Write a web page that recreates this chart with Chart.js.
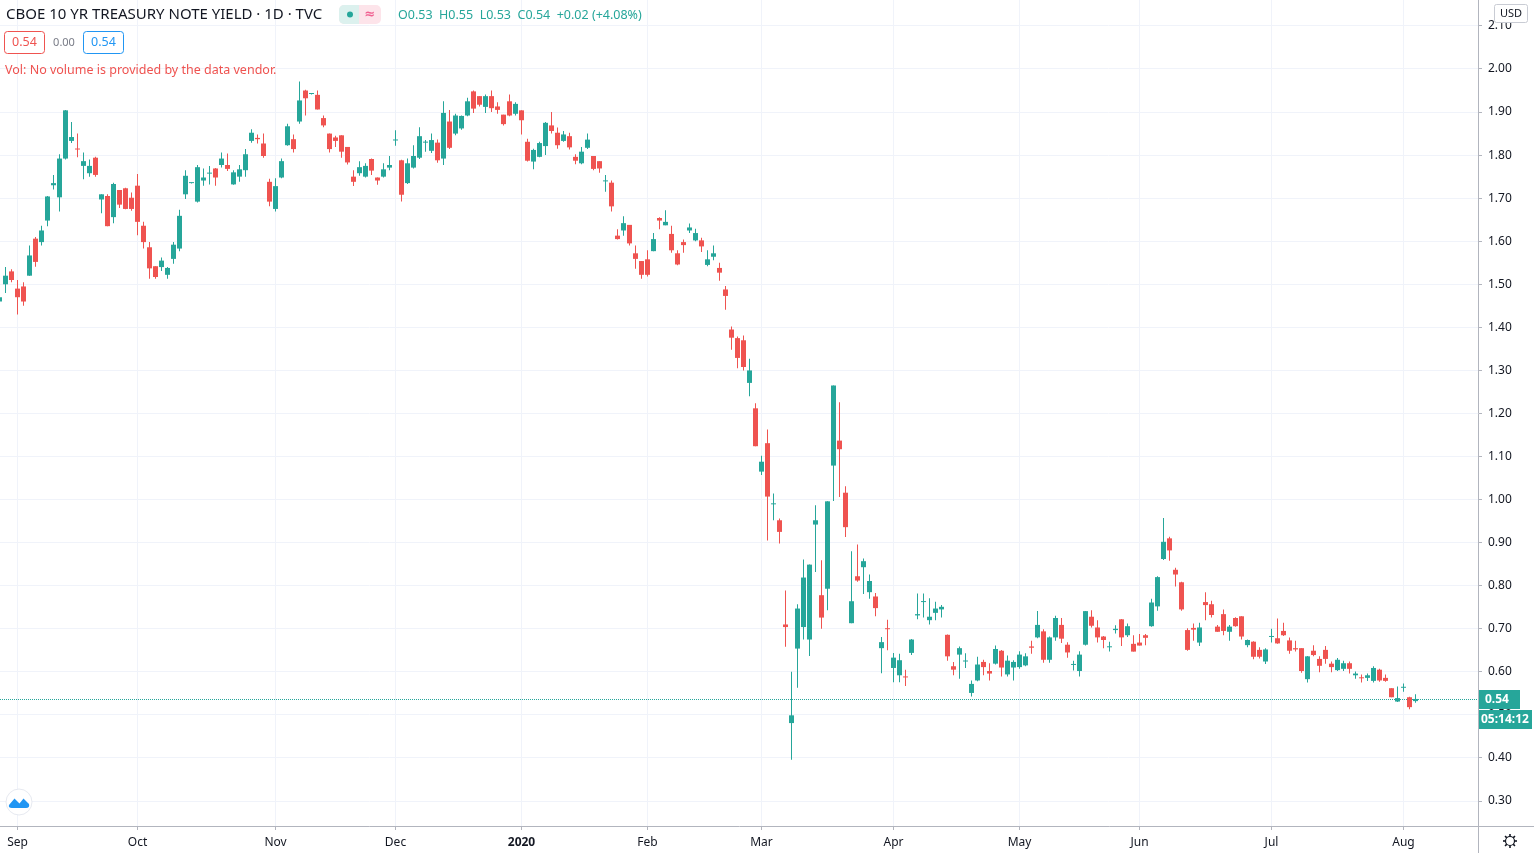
<!DOCTYPE html>
<html>
<head>
<meta charset="utf-8">
<title>CBOE 10 YR TREASURY NOTE YIELD</title>
<script src="https://cdn.jsdelivr.net/npm/chart.js@4.4.1/dist/chart.umd.min.js"></script>
<style>
html, body { margin: 0; padding: 0; background: #fff; overflow: hidden; }
#chart { display: block; }
</style>
</head>
<body>
<canvas id="chart" width="1534" height="853"></canvas>
<script>
// Daily candles, 28 Aug 2019 - 5 Aug 2020
const dates = [
    '2019-08-28', '2019-08-29', '2019-08-30',
    '2019-09-03', '2019-09-04', '2019-09-05', '2019-09-06', '2019-09-09', '2019-09-10', '2019-09-11', '2019-09-12', '2019-09-13', '2019-09-16',
    '2019-09-17', '2019-09-18', '2019-09-19', '2019-09-20', '2019-09-23', '2019-09-24', '2019-09-25', '2019-09-26', '2019-09-27', '2019-09-30',
    '2019-10-01', '2019-10-02', '2019-10-03', '2019-10-04', '2019-10-07', '2019-10-08', '2019-10-09', '2019-10-10', '2019-10-11', '2019-10-14',
    '2019-10-15', '2019-10-16', '2019-10-17', '2019-10-18', '2019-10-21', '2019-10-22', '2019-10-23', '2019-10-24', '2019-10-25', '2019-10-28',
    '2019-10-29', '2019-10-30', '2019-10-31',
    '2019-11-01', '2019-11-04', '2019-11-05', '2019-11-06', '2019-11-07', '2019-11-08', '2019-11-11', '2019-11-12', '2019-11-13', '2019-11-14',
    '2019-11-15', '2019-11-18', '2019-11-19', '2019-11-20', '2019-11-21', '2019-11-22', '2019-11-25', '2019-11-26', '2019-11-27', '2019-11-29',
    '2019-12-02', '2019-12-03', '2019-12-04', '2019-12-05', '2019-12-06', '2019-12-09', '2019-12-10', '2019-12-11', '2019-12-12', '2019-12-13',
    '2019-12-16', '2019-12-17', '2019-12-18', '2019-12-19', '2019-12-20', '2019-12-23', '2019-12-24', '2019-12-26', '2019-12-27', '2019-12-30',
    '2019-12-31',
    '2020-01-02', '2020-01-03', '2020-01-06', '2020-01-07', '2020-01-08', '2020-01-09', '2020-01-10', '2020-01-13', '2020-01-14', '2020-01-15',
    '2020-01-16', '2020-01-17', '2020-01-21', '2020-01-22', '2020-01-23', '2020-01-24', '2020-01-27', '2020-01-28', '2020-01-29', '2020-01-30',
    '2020-01-31',
    '2020-02-03', '2020-02-04', '2020-02-05', '2020-02-06', '2020-02-07', '2020-02-10', '2020-02-11', '2020-02-12', '2020-02-13', '2020-02-14',
    '2020-02-18', '2020-02-19', '2020-02-20', '2020-02-21', '2020-02-24', '2020-02-25', '2020-02-26', '2020-02-27', '2020-02-28',
    '2020-03-02', '2020-03-03', '2020-03-04', '2020-03-05', '2020-03-06', '2020-03-09', '2020-03-10', '2020-03-11', '2020-03-12', '2020-03-13',
    '2020-03-16', '2020-03-17', '2020-03-18', '2020-03-19', '2020-03-20', '2020-03-23', '2020-03-24', '2020-03-25', '2020-03-26', '2020-03-27',
    '2020-03-30', '2020-03-31',
    '2020-04-01', '2020-04-02', '2020-04-03', '2020-04-06', '2020-04-07', '2020-04-08', '2020-04-09', '2020-04-13', '2020-04-14', '2020-04-15',
    '2020-04-16', '2020-04-17', '2020-04-20', '2020-04-21', '2020-04-22', '2020-04-23', '2020-04-24', '2020-04-27', '2020-04-28', '2020-04-29',
    '2020-04-30',
    '2020-05-01', '2020-05-04', '2020-05-05', '2020-05-06', '2020-05-07', '2020-05-08', '2020-05-11', '2020-05-12', '2020-05-13', '2020-05-14',
    '2020-05-15', '2020-05-18', '2020-05-19', '2020-05-20', '2020-05-21', '2020-05-22', '2020-05-26', '2020-05-27', '2020-05-28', '2020-05-29',
    '2020-06-01', '2020-06-02', '2020-06-03', '2020-06-04', '2020-06-05', '2020-06-08', '2020-06-09', '2020-06-10', '2020-06-11', '2020-06-12',
    '2020-06-15', '2020-06-16', '2020-06-17', '2020-06-18', '2020-06-19', '2020-06-22', '2020-06-23', '2020-06-24', '2020-06-25', '2020-06-26',
    '2020-06-29', '2020-06-30',
    '2020-07-01', '2020-07-02', '2020-07-06', '2020-07-07', '2020-07-08', '2020-07-09', '2020-07-10', '2020-07-13', '2020-07-14', '2020-07-15',
    '2020-07-16', '2020-07-17', '2020-07-20', '2020-07-21', '2020-07-22', '2020-07-23', '2020-07-24', '2020-07-27', '2020-07-28', '2020-07-29',
    '2020-07-30', '2020-07-31',
    '2020-08-03', '2020-08-04', '2020-08-05'
]

const open = [
    1.46, 1.50, 1.53, 1.49, 1.495, 1.52, 1.606, 1.598, 1.648, 1.73,
    1.702, 1.792, 1.833, 1.815, 1.775, 1.758, 1.794, 1.697, 1.705, 1.656,
    1.719, 1.723, 1.701, 1.729, 1.636, 1.586, 1.542, 1.54, 1.522, 1.559,
    1.583, 1.709, 1.735, 1.692, 1.741, 1.757, 1.769, 1.777, 1.777, 1.732,
    1.75, 1.765, 1.833, 1.84, 1.827, 1.738, 1.675, 1.748, 1.823, 1.837,
    1.878, 1.95, 1.942, 1.94, 1.886, 1.85, 1.841, 1.846, 1.819, 1.75,
    1.758, 1.75, 1.791, 1.748, 1.75, 1.771, 1.834, 1.788, 1.735, 1.771,
    1.794, 1.829, 1.81, 1.829, 1.792, 1.878, 1.85, 1.862, 1.892, 1.948,
    1.937, 1.912, 1.937, 1.913, 1.894, 1.925, 1.896, 1.904, 1.831, 1.785,
    1.796, 1.821, 1.869, 1.852, 1.833, 1.844, 1.796, 1.781, 1.817, 1.798,
    1.786, 1.739, 1.736, 1.613, 1.625, 1.638, 1.572, 1.554, 1.558, 1.577,
    1.654, 1.637, 1.617, 1.572, 1.598, 1.625, 1.602, 1.602, 1.545, 1.564,
    1.538, 1.488, 1.395, 1.375, 1.37, 1.271, 1.212, 1.065, 1.131, 0.989,
    0.952, 0.71, 0.481, 0.654, 0.704, 0.675, 0.942, 0.778, 0.793, 1.079,
    1.137, 1.016, 0.713, 0.822, 0.843, 0.785, 0.775, 0.655, 0.701, 0.609,
    0.592, 0.589, 0.644, 0.731, 0.762, 0.72, 0.737, 0.745, 0.686, 0.613,
    0.64, 0.624, 0.551, 0.58, 0.623, 0.602, 0.619, 0.649, 0.594, 0.61,
    0.611, 0.615, 0.659, 0.68, 0.694, 0.628, 0.68, 0.709, 0.663, 0.616,
    0.602, 0.663, 0.728, 0.703, 0.682, 0.657, 0.697, 0.722, 0.685, 0.665,
    0.668, 0.685, 0.706, 0.752, 0.862, 0.91, 0.837, 0.808, 0.697, 0.702,
    0.668, 0.762, 0.757, 0.705, 0.734, 0.693, 0.725, 0.729, 0.662, 0.67,
    0.651, 0.624, 0.681, 0.678, 0.695, 0.673, 0.655, 0.655, 0.583, 0.649,
    0.63, 0.651, 0.619, 0.604, 0.607, 0.62, 0.592, 0.587, 0.586, 0.579,
    0.605, 0.586, 0.562, 0.531, 0.563, 0.541, 0.532
]

const high = [
    1.47, 1.54, 1.535, 1.51, 1.505, 1.59, 1.61, 1.636, 1.705, 1.754,
    1.802, 1.905, 1.877, 1.85, 1.806, 1.79, 1.796, 1.709, 1.709, 1.736,
    1.719, 1.724, 1.713, 1.756, 1.645, 1.598, 1.542, 1.562, 1.54, 1.598,
    1.673, 1.765, 1.736, 1.777, 1.769, 1.775, 1.77, 1.806, 1.804, 1.765,
    1.777, 1.814, 1.86, 1.848, 1.85, 1.745, 1.746, 1.792, 1.873, 1.848,
    1.971, 1.952, 1.943, 1.95, 1.892, 1.85, 1.845, 1.846, 1.819, 1.765,
    1.786, 1.781, 1.792, 1.748, 1.781, 1.798, 1.858, 1.789, 1.792, 1.823,
    1.865, 1.835, 1.85, 1.836, 1.925, 1.905, 1.896, 1.892, 1.933, 1.95,
    1.937, 1.941, 1.95, 1.923, 1.894, 1.941, 1.923, 1.904, 1.838, 1.815,
    1.831, 1.877, 1.90, 1.864, 1.856, 1.852, 1.802, 1.819, 1.85, 1.798,
    1.786, 1.754, 1.741, 1.628, 1.658, 1.638, 1.59, 1.554, 1.579, 1.619,
    1.656, 1.672, 1.636, 1.579, 1.604, 1.641, 1.629, 1.608, 1.579, 1.59,
    1.55, 1.496, 1.402, 1.379, 1.381, 1.327, 1.224, 1.102, 1.163, 1.014,
    0.956, 0.789, 0.60, 0.757, 0.861, 0.849, 0.987, 0.859, 0.996, 1.265,
    1.226, 1.031, 0.88, 0.896, 0.863, 0.826, 0.783, 0.681, 0.721, 0.644,
    0.642, 0.605, 0.676, 0.782, 0.782, 0.771, 0.763, 0.755, 0.687, 0.623,
    0.659, 0.643, 0.58, 0.635, 0.628, 0.62, 0.661, 0.651, 0.638, 0.627,
    0.648, 0.643, 0.672, 0.741, 0.699, 0.682, 0.73, 0.725, 0.669, 0.626,
    0.648, 0.741, 0.743, 0.72, 0.683, 0.67, 0.708, 0.723, 0.712, 0.685,
    0.688, 0.688, 0.77, 0.822, 0.957, 0.914, 0.842, 0.809, 0.701, 0.712,
    0.714, 0.785, 0.765, 0.709, 0.745, 0.709, 0.727, 0.729, 0.675, 0.671,
    0.657, 0.655, 0.70, 0.724, 0.714, 0.68, 0.672, 0.655, 0.637, 0.662,
    0.636, 0.66, 0.624, 0.632, 0.626, 0.624, 0.601, 0.594, 0.596, 0.613,
    0.607, 0.594, 0.562, 0.566, 0.573, 0.542, 0.548
]

const low = [
    1.45, 1.48, 1.505, 1.43, 1.45, 1.52, 1.541, 1.59, 1.635, 1.72,
    1.669, 1.79, 1.828, 1.795, 1.744, 1.75, 1.75, 1.665, 1.635, 1.642,
    1.677, 1.674, 1.671, 1.614, 1.583, 1.513, 1.513, 1.531, 1.513, 1.548,
    1.577, 1.698, 1.734, 1.69, 1.729, 1.732, 1.729, 1.771, 1.763, 1.731,
    1.738, 1.75, 1.829, 1.827, 1.794, 1.681, 1.669, 1.746, 1.822, 1.806,
    1.873, 1.892, 1.941, 1.906, 1.865, 1.806, 1.819, 1.794, 1.778, 1.728,
    1.752, 1.748, 1.754, 1.731, 1.748, 1.765, 1.822, 1.692, 1.733, 1.769,
    1.791, 1.808, 1.805, 1.782, 1.777, 1.814, 1.846, 1.859, 1.89, 1.898,
    1.913, 1.898, 1.90, 1.896, 1.869, 1.89, 1.892, 1.848, 1.785, 1.767,
    1.795, 1.80, 1.85, 1.815, 1.831, 1.813, 1.779, 1.779, 1.814, 1.765,
    1.759, 1.715, 1.669, 1.604, 1.613, 1.59, 1.536, 1.513, 1.518, 1.577,
    1.628, 1.637, 1.573, 1.544, 1.573, 1.619, 1.60, 1.575, 1.542, 1.556,
    1.508, 1.441, 1.348, 1.305, 1.30, 1.24, 1.124, 1.057, 0.905, 0.952,
    0.898, 0.658, 0.396, 0.563, 0.675, 0.637, 0.832, 0.70, 0.743, 0.997,
    1.006, 0.913, 0.713, 0.809, 0.781, 0.77, 0.729, 0.597, 0.65, 0.576,
    0.576, 0.567, 0.639, 0.722, 0.726, 0.71, 0.72, 0.726, 0.626, 0.592,
    0.584, 0.609, 0.543, 0.578, 0.592, 0.58, 0.617, 0.589, 0.589, 0.58,
    0.607, 0.613, 0.642, 0.678, 0.621, 0.621, 0.672, 0.667, 0.633, 0.603,
    0.589, 0.661, 0.703, 0.668, 0.655, 0.647, 0.689, 0.66, 0.681, 0.647,
    0.661, 0.662, 0.705, 0.742, 0.86, 0.858, 0.798, 0.742, 0.649, 0.672,
    0.66, 0.72, 0.726, 0.693, 0.685, 0.672, 0.705, 0.675, 0.657, 0.629,
    0.631, 0.618, 0.668, 0.665, 0.683, 0.642, 0.647, 0.598, 0.575, 0.636,
    0.599, 0.619, 0.599, 0.602, 0.602, 0.596, 0.584, 0.575, 0.579, 0.575,
    0.577, 0.577, 0.541, 0.53, 0.554, 0.513, 0.528
]

const close = [
    1.47, 1.52, 1.51, 1.47, 1.46, 1.567, 1.552, 1.625, 1.704, 1.735,
    1.792, 1.904, 1.842, 1.813, 1.786, 1.775, 1.754, 1.709, 1.635, 1.733,
    1.685, 1.675, 1.675, 1.645, 1.598, 1.537, 1.517, 1.555, 1.538, 1.592,
    1.659, 1.752, 1.735, 1.772, 1.748, 1.758, 1.748, 1.792, 1.768, 1.76,
    1.767, 1.802, 1.852, 1.837, 1.798, 1.692, 1.728, 1.786, 1.867, 1.814,
    1.927, 1.932, 1.943, 1.906, 1.869, 1.814, 1.833, 1.808, 1.783, 1.738,
    1.772, 1.775, 1.764, 1.741, 1.767, 1.777, 1.836, 1.708, 1.781, 1.798,
    1.844, 1.831, 1.835, 1.788, 1.898, 1.817, 1.892, 1.891, 1.925, 1.908,
    1.917, 1.937, 1.909, 1.905, 1.872, 1.892, 1.919, 1.881, 1.787, 1.812,
    1.828, 1.875, 1.856, 1.823, 1.848, 1.818, 1.787, 1.808, 1.836, 1.768,
    1.769, 1.741, 1.681, 1.605, 1.642, 1.595, 1.559, 1.522, 1.522, 1.605,
    1.648, 1.645, 1.579, 1.546, 1.591, 1.632, 1.619, 1.588, 1.558, 1.572,
    1.527, 1.473, 1.376, 1.329, 1.308, 1.30, 1.124, 1.088, 1.007, 0.99,
    0.925, 0.704, 0.499, 0.747, 0.819, 0.849, 0.952, 0.726, 0.996, 1.265,
    1.117, 0.936, 0.764, 0.812, 0.857, 0.811, 0.748, 0.669, 0.699, 0.633,
    0.627, 0.587, 0.675, 0.734, 0.764, 0.728, 0.747, 0.751, 0.636, 0.605,
    0.655, 0.626, 0.572, 0.617, 0.611, 0.596, 0.653, 0.61, 0.626, 0.623,
    0.64, 0.636, 0.656, 0.709, 0.628, 0.68, 0.725, 0.677, 0.645, 0.618,
    0.64, 0.741, 0.707, 0.68, 0.674, 0.659, 0.70, 0.68, 0.706, 0.647,
    0.661, 0.679, 0.761, 0.82, 0.902, 0.882, 0.826, 0.745, 0.651, 0.698,
    0.703, 0.755, 0.732, 0.693, 0.695, 0.705, 0.706, 0.682, 0.674, 0.635,
    0.635, 0.652, 0.683, 0.666, 0.685, 0.649, 0.652, 0.602, 0.636, 0.639,
    0.614, 0.63, 0.611, 0.628, 0.62, 0.607, 0.596, 0.585, 0.592, 0.609,
    0.58, 0.579, 0.541, 0.539, 0.565, 0.518, 0.537
]

const monthLabels = ['Sep', 'Oct', 'Nov', 'Dec', '2020', 'Feb', 'Mar', 'Apr', 'May', 'Jun', 'Jul', 'Aug']
const priceTicks = [0.3, 0.4, 0.5, 0.6, 0.7, 0.8, 0.9, 1.0, 1.1, 1.2, 1.3, 1.4, 1.5, 1.6, 1.7, 1.8, 1.9, 2.0, 2.1]

const FONT = '"Noto Sans", "DejaVu Sans", sans-serif'
const upColor = '#26a69a'
const downColor = '#ef5350'
const gridColor = '#f0f3fa'
const axisColor = '#b2b5be'
const textColor = '#131722'

// first trading day of every month (the partial August 2019 gets no label)
const monthStarts = []
dates.forEach((d, i) => {
    if (i > 0 && d.slice(0, 7) !== dates[i - 1].slice(0, 7)) monthStarts.push(i)
})
const monthName = {}
monthStarts.forEach((idx, k) => { monthName[idx] = monthLabels[k] })

const candleColors = open.map((o, i) => close[i] >= o ? upColor : downColor)
const lastClose = close[close.length - 1]

Chart.defaults.font.family = FONT
Chart.defaults.font.size = 12
Chart.defaults.color = textColor

function roundRect(ctx, x, y, w, h, r) {
    ctx.beginPath()
    ctx.moveTo(x + r, y)
    ctx.arcTo(x + w, y, x + w, y + h, r)
    ctx.arcTo(x + w, y + h, x, y + h, r)
    ctx.arcTo(x, y + h, x, y, r)
    ctx.arcTo(x, y, x + w, y, r)
    ctx.closePath()
}

const priceLine = {
    id: 'priceLine',
    beforeDatasetsDraw(chart) {
        const { ctx, chartArea, scales: { y } } = chart
        const py = Math.round(y.getPixelForValue(lastClose)) + 0.5
        ctx.save()
        ctx.strokeStyle = upColor
        ctx.lineWidth = 1
        ctx.setLineDash([1, 1])
        ctx.beginPath()
        ctx.moveTo(chartArea.left, py)
        ctx.lineTo(chartArea.right, py)
        ctx.stroke()
        ctx.restore()
    }
}

const overlay = {
    id: 'overlay',
    afterDraw(chart) {
        const { ctx, chartArea, scales: { y } } = chart
        ctx.save()
        ctx.textBaseline = 'middle'

        // Legend / header
        ctx.font = `15px ${FONT}`
        ctx.fillStyle = textColor
        ctx.fillText('CBOE 10 YR TREASURY NOTE YIELD · 1D · TVC', 6, 15)

        ctx.save()
        roundRect(ctx, 339, 5, 42, 19, 5)
        ctx.clip()
        ctx.fillStyle = '#fde4ea'
        ctx.fillRect(339, 5, 42, 19)
        ctx.fillStyle = '#dcf1ee'
        ctx.fillRect(339, 5, 20, 19)
        ctx.restore()
        ctx.fillStyle = upColor
        ctx.beginPath()
        ctx.arc(350, 14.5, 3, 0, Math.PI * 2)
        ctx.fill()
        ctx.fillStyle = '#f06292'
        ctx.font = `bold 13px ${FONT}`
        ctx.textAlign = 'center'
        ctx.fillText('≈', 370, 14)
        ctx.textAlign = 'left'

        ctx.font = `12.5px ${FONT}`
        ctx.fillStyle = upColor
        ctx.fillText('O0.53  H0.55  L0.53  C0.54  +0.02 (+4.08%)', 398, 15)

        // Indicator values
        ctx.lineWidth = 1
        roundRect(ctx, 4.5, 31.5, 40, 22, 3)
        ctx.fillStyle = '#fff'
        ctx.fill()
        ctx.strokeStyle = downColor
        ctx.stroke()
        ctx.fillStyle = downColor
        ctx.font = `12.5px ${FONT}`
        ctx.textAlign = 'center'
        ctx.fillText('0.54', 24.5, 42.5)
        ctx.fillStyle = '#787b86'
        ctx.font = `11px ${FONT}`
        ctx.fillText('0.00', 64, 42.5)
        roundRect(ctx, 83.5, 31.5, 40, 22, 3)
        ctx.fillStyle = '#fff'
        ctx.fill()
        ctx.strokeStyle = '#2196f3'
        ctx.stroke()
        ctx.fillStyle = '#2196f3'
        ctx.font = `12.5px ${FONT}`
        ctx.fillText('0.54', 103.5, 42.5)
        ctx.textAlign = 'left'

        ctx.fillStyle = downColor
        ctx.fillText('Vol: No volume is provided by the data vendor.', 5, 70)

        // Axis frame continued into the corner
        ctx.strokeStyle = axisColor
        ctx.beginPath()
        ctx.moveTo(chartArea.right, 826.5)
        ctx.lineTo(chart.width, 826.5)
        ctx.moveTo(chartArea.right + 0.5, chartArea.bottom)
        ctx.lineTo(chartArea.right + 0.5, chart.height)
        ctx.stroke()

        // Last price labels
        const py = Math.round(y.getPixelForValue(lastClose))
        ctx.fillStyle = upColor
        ctx.fillRect(chartArea.right + 1, py - 9, 41, 19)
        ctx.fillRect(chartArea.right + 1, py + 11, 53, 19)
        ctx.fillStyle = '#fff'
        ctx.font = `bold 12px ${FONT}`
        ctx.fillText(lastClose.toFixed(2), chartArea.right + 7, py + 0.5)
        ctx.fillText('05:14:12', chartArea.right + 3, py + 20.5)

        // Currency badge
        roundRect(ctx, 1494.5, 4.5, 33, 18, 2)
        ctx.fillStyle = '#fff'
        ctx.fill()
        ctx.strokeStyle = '#c9ccd4'
        ctx.stroke()
        ctx.fillStyle = textColor
        ctx.font = `11px ${FONT}`
        ctx.textAlign = 'center'
        ctx.fillText('USD', 1511, 14)
        ctx.textAlign = 'left'

        // Settings gear
        ctx.strokeStyle = textColor
        ctx.lineWidth = 1.2
        ctx.beginPath()
        ctx.arc(1510, 841, 4.5, 0, Math.PI * 2)
        ctx.stroke()
        ctx.lineWidth = 1.6
        for (let k = 0; k < 8; k++) {
            const a = k * Math.PI / 4
            ctx.beginPath()
            ctx.moveTo(1510 + Math.cos(a) * 4.5, 841 + Math.sin(a) * 4.5)
            ctx.lineTo(1510 + Math.cos(a) * 7, 841 + Math.sin(a) * 7)
            ctx.stroke()
        }

        // Logo
        ctx.beginPath()
        ctx.arc(19, 802, 13, 0, Math.PI * 2)
        ctx.fillStyle = '#fff'
        ctx.fill()
        ctx.strokeStyle = '#e6e9f0'
        ctx.lineWidth = 1
        ctx.stroke()
        ctx.fillStyle = '#2196f3'
        ctx.beginPath()
        ctx.moveTo(9, 805)
        ctx.lineTo(14.5, 798.5)
        ctx.lineTo(19.5, 803.5)
        ctx.lineTo(23.5, 798.5)
        ctx.lineTo(29, 804)
        ctx.quadraticCurveTo(30, 808, 26, 808)
        ctx.lineTo(12, 808)
        ctx.quadraticCurveTo(8, 808, 9, 805)
        ctx.fill()

        ctx.restore()
    }
}

new Chart(document.getElementById('chart'), {
    type: 'bar',
    data: {
        datasets: [{
            label: 'Wick',
            data: dates.map((d, i) => ({ x: i, y: [low[i], high[i]] })),
            backgroundColor: candleColors,
            barThickness: 1,
            grouped: false,
            inflateAmount: 0,
            borderWidth: 0
        }, {
            label: 'Body',
            data: dates.map((d, i) => ({ x: i, y: [open[i], close[i]] })),
            backgroundColor: candleColors,
            barThickness: 5,
            minBarLength: 1,
            grouped: false,
            inflateAmount: 0,
            borderWidth: 0
        }]
    },
    options: {
        responsive: false,
        animation: false,
        devicePixelRatio: 1,
        layout: { padding: 0 },
        plugins: {
            legend: { display: false },
            tooltip: { enabled: false }
        },
        scales: {
            x: {
                type: 'linear',
                offset: false,
                min: 0.5 / 6,
                max: 0.5 / 6 + 1478 / 6,
                afterBuildTicks: scale => { scale.ticks = monthStarts.map(v => ({ value: v })) },
                afterFit: scale => {
                    scale.height = 27
                    scale.paddingLeft = 0
                    scale.paddingRight = 0
                },
                grid: { offset: false, color: gridColor, tickColor: axisColor, tickLength: 4, drawTicks: true },
                border: { color: axisColor },
                ticks: {
                    autoSkip: false,
                    maxRotation: 0,
                    padding: 5,
                    color: textColor,
                    font: ctx => ({ size: 12, weight: monthName[ctx.tick && ctx.tick.value] === '2020' ? 'bold' : 'normal' }),
                    callback: value => monthName[value]
                }
            },
            y: {
                position: 'right',
                bounds: 'data',
                min: 2.16024 - 826 / 430.6,
                max: 2.16024,
                afterBuildTicks: scale => { scale.ticks = priceTicks.map(v => ({ value: v })) },
                afterFit: scale => {
                    scale.width = 56
                    scale.paddingTop = 0
                    scale.paddingBottom = 0
                },
                grid: { color: gridColor, tickColor: axisColor, tickLength: 4, drawTicks: true },
                border: { color: axisColor },
                ticks: {
                    padding: 6,
                    color: textColor,
                    font: { size: 12 },
                    callback: value => value.toFixed(2)
                }
            }
        }
    },
    plugins: [priceLine, overlay]
})
</script>
</body>
</html>
